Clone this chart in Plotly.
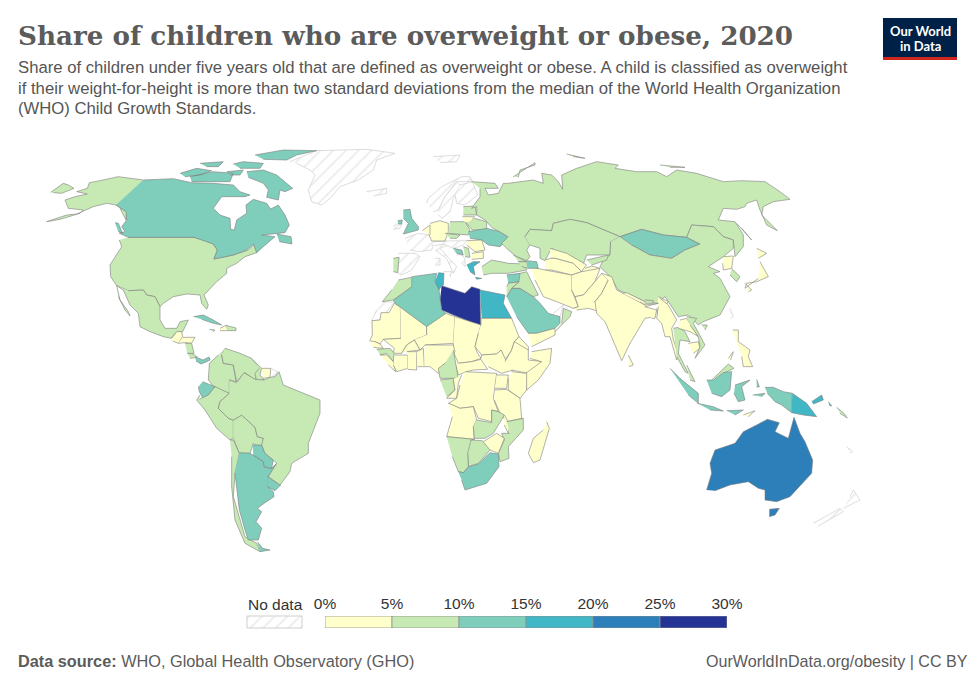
import plotly.graph_objects as go

# no topojson without network, so the outlines below are traced from zoomed crops
CROPS = {"N": (0, 140), "M": (370, 140), "O": (360, 300), "E": (385, 170), "S": (180, 340), "F": (365, 310), "A": (530, 240)}

country_names = [
    "USA", "Canada", "Mexico", "Guatemala", "Honduras", "Nicaragua", "Costa Rica", "Panama", "Cuba", "Haiti", "Dominican Rep.", "Jamaica",
    "Colombia", "Venezuela", "Guyana", "Suriname", "Ecuador", "Peru", "Bolivia", "Chile", "Argentina", "Paraguay", "Uruguay", "Brazil",
    "UK", "Portugal", "Germany", "Benelux", "Poland", "Baltics", "Lithuania", "Belarus", "Czechia", "Ukraine", "Romania", "Bulgaria", "Serbia", "Bosnia", "Greece", "Turkey",
    "Russia", "Kazakhstan", "Mongolia", "China", "North Korea", "South Korea", "Japan", "Uzbekistan", "Turkmenistan", "Kyrgyzstan", "Tajikistan", "Iran", "Afghanistan", "Pakistan", "India", "Nepal", "Bhutan", "Bangladesh", "Myanmar", "Sri Lanka", "Thailand", "Laos", "Cambodia", "Vietnam", "Malaysia", "Philippines", "Indonesia", "Timor",
    "Saudi Arabia", "Oman", "Yemen", "Iraq", "Syria", "Jordan", "Georgia", "Armenia", "Azerbaijan",
    "Libya", "Tunisia", "Algeria", "Morocco", "Egypt", "Mauritania", "Mali", "Niger", "Chad", "Sudan", "South Sudan", "CAR", "Senegal", "Guinea", "Sierra Leone", "Ivory Coast", "Burkina Faso", "Ghana", "Benin", "Nigeria", "Cameroon", "Gabon", "Congo", "DR Congo", "Eritrea", "Ethiopia", "Somalia", "Kenya", "Uganda", "Tanzania", "Angola", "Zambia", "Malawi", "Mozambique", "Zimbabwe", "Botswana", "Namibia", "South Africa", "Madagascar",
    "Australia", "Papua New Guinea", "Solomon Is.",
]
country_values = [
    9, 12, 8, 4, 4, 8, 8, 11, 11, 4, 8, 7,
    7, 7, 7, 4, 12, 8, 9, 9, 13, 12, 12, 7,
    11, 8, 4, 4, 7, 7, 4, 8, 7, 12, 4, 4, 8, 11, 17, 8,
    8, 8, 12, 8, 2, 7, 3, 3, 4, 7, 3, 4, 4, 3, 2, 2, 7, 2, 2, 2, 8, 3, 2, 6, 7, 4, 11, 2,
    14, 6, 2, 9, 13, 7, 8, 7, 12,
    28, 17, 12, 9, 17, 2, 2, 2, 3, 3, 3, 3, 2, 8, 4, 2, 2, 3, 2, 2, 9, 7, 4, 4, 2, 3, 3, 4, 4, 4, 3, 6, 4, 6, 3, 8, 6, 13, 2,
    22, 16, 5,
]
nodata_names = ["Greenland", "Iceland", "Svalbard", "Norway", "Sweden", "Finland", "Ireland", "France", "Spain", "Italy", "Alps", "Balkans", "W. Sahara", "Fr. Guiana", "Taiwan", "UAE", "New Zealand", "New Caledonia"]

outlines = {
    "USA": [("N", "385,292 582,292 610,300 640,312 652,330 642,357 700,345 745,330 765,310 770,338 735,350 710,370 680,385 680,400 650,425 625,450 612,465 625,495 620,508 605,490 600,465 560,462 520,470 490,490 480,500 465,470 440,465 430,450 385,452 350,437 332,410 330,375 345,350 365,320 358,300"),
            ("N", "430,120 355,110 300,122 268,128 262,145 230,155 262,162 225,170 195,180 205,205 250,210 240,220 180,238 140,245 200,225 230,222 280,200 320,190 348,195 380,215 378,240 360,205"),
            ("N", "152,157 190,130 205,135 222,145 185,160 160,158")],
    "Canada": [("N", "430,120 520,116 575,128 640,130 700,135 720,155 750,165 735,170 665,170 640,205 660,225 690,235 692,268 703,270 710,240 740,220 738,195 760,178 800,190 812,207 835,195 855,225 868,255 855,278 785,285 825,290 790,320 770,338 760,312 740,330 700,345 642,357 652,330 640,312 582,292 385,292 358,280 375,275 365,260 380,240 378,215 348,195"),
               ("N", "765,45 850,30 950,32 890,45 860,60 790,58"), ("N", "740,95 790,90 830,105 855,125 878,145 855,155 840,150 835,180 800,172 805,150 790,130 745,112"),
               ("N", "570,110 640,95 700,100 690,125 625,125 575,125"), ("N", "540,100 590,85 635,92 600,105 555,110"), ("N", "600,70 670,65 655,80 620,80"),
               ("N", "700,72 730,65 790,70 780,85 720,85"), ("N", "680,95 730,90 720,105 690,105"), ("N", "830,282 873,290 876,312 838,305"), ("N", "345,248 355,250 368,280 355,275")],
    "Mexico": [("N", "385,452 430,450 440,465 465,470 480,500 480,540 495,565 530,565 540,545 565,540 548,575 525,580 515,595 490,590 450,575 420,560 415,520 390,495 370,450 362,445 350,437"), ("N", "350,437 360,480 385,515 390,528 375,510 355,470")],
    "Guatemala": [("N", "515,595 530,575 545,575 548,590 535,610 518,603")],
    "Honduras": [("N", "548,592 585,592 575,610 555,608 535,610")],
    "Nicaragua": [("N", "555,610 575,610 582,640 562,640")],
    "Costa Rica": [("N", "562,640 580,642 592,652 570,655")],
    "Panama": [("N", "585,650 609,660 627,651 630,660 618,666 603,672 588,663")],
    "Cuba": [("N", "580,530 610,525 640,540 665,555 640,550 605,538")],
    "Haiti": [("N", "660,565 678,556 685,572 660,572")],
    "Dominican Rep.": [("N", "678,556 708,564 708,572 685,572")],
    "Jamaica": [("N", "628,568 645,570 640,575")],
    "Colombia": [("S", "135,25 125,45 130,70 160,75 168,125 148,120 148,160 135,155 105,145 85,120 88,70 115,45")],
    "Venezuela": [("S", "135,25 175,38 215,55 240,85 225,120 195,98 170,125 160,75 130,70 125,45")],
    "Guyana": [("S", "218,60 245,85 240,105 252,118 230,125 225,100 238,85")],
    "Suriname": [("S", "245,85 272,85 270,112 250,115")],
    "Ecuador": [("S", "68,125 105,140 85,165 70,178 58,155 55,140")],
    "Peru": [("S", "58,178 85,165 105,140 135,155 148,160 120,185 115,205 145,235 160,240 160,295 150,300 110,265 75,210 50,180 60,165")],
    "Bolivia": [("S", "160,240 185,225 225,262 232,290 250,295 250,330 220,310 210,340 178,340 160,295")],
    "Chile": [("S", "150,300 160,300 178,340 165,400 160,470 180,540 195,590 230,610 240,635 195,610 165,540 155,440 155,350")],
    "Argentina": [("S", "178,338 210,340 250,365 253,382 275,385 290,370 265,410 262,440 280,455 282,470 255,488 232,505 245,515 228,545 245,565 235,600 205,600 195,570 178,510 165,400"), ("S", "232,605 248,625 270,630 240,635")],
    "Paraguay": [("S", "218,315 245,315 255,340 280,360 275,385 253,380 250,365 220,345")],
    "Uruguay": [("S", "262,410 302,435 285,452 262,440")],
    "Brazil": [("S", "148,120 170,128 192,98 225,118 252,120 270,112 285,110 297,95 310,135 360,155 420,180 420,220 385,310 385,340 335,370 330,395 300,435 265,410 290,370 280,360 255,340 245,315 250,295 232,290 225,262 185,225 160,240 145,235 115,205 120,185 148,160")],
    "UK": [("E", "55,120 75,118 80,145 100,170 100,180 55,192 70,160 55,145"), ("E", "38,152 52,150 50,162 40,162")],
    "Portugal": [("E", "25,265 42,262 38,308 25,305")],
    "Germany": [("E", "135,160 165,152 190,160 190,185 180,213 140,213 130,190")],
    "Benelux": [("E", "112,182 135,165 135,195")],
    "Poland": [("E", "195,155 240,155 255,180 250,195 190,190")],
    "Baltics": [("E", "235,110 270,108 275,135 235,135")],
    "Lithuania": [("E", "232,140 268,140 255,160 240,158")],
    "Belarus": [("E", "268,145 305,155 305,180 262,180 245,160")],
    "Czechia": [("E", "180,190 225,195 215,205 195,205")],
    "Ukraine": [("E", "250,185 305,175 345,185 372,205 345,230 310,225 290,210 255,205")],
    "Romania": [("E", "245,212 290,210 300,240 270,245 245,225")],
    "Bulgaria": [("E", "260,250 295,245 295,265 260,268")],
    "Serbia": [("E", "235,230 250,235 255,262 240,260")],
    "Bosnia": [("E", "205,235 230,240 235,255 215,250")],
    "Greece": [("E", "245,285 265,275 285,275 265,290 270,315 255,305"), ("E", "270,322 290,325 275,328")],
    "Turkey": [("E", "290,290 320,270 370,280 420,282 425,300 370,310 320,310 295,315")],
    "Russia": [("M", "305,125 375,130 385,145 345,145 355,165 385,160 400,130 415,130 490,120 520,130 515,100 545,105 565,125 578,148 575,105 620,85 680,65 745,75 735,85 800,95 860,95 890,110 920,90 980,100 1060,125 1115,122 1185,125 1230,155 1260,178 1210,185 1180,200 1175,225 1222,272 1190,255 1170,210 1160,180 1130,190 1125,200 1100,208 1060,205 1045,240 1095,245 1120,285 1120,320 1095,350 1090,300 1060,290 1030,260 965,255 950,292 880,285 815,268 750,290 650,248 600,238 550,250 545,272 480,268 465,290 480,315 470,330 480,350 470,362 440,350 415,330 395,310 415,290 365,262 345,240 320,225 320,200 305,205 330,170 330,145"),
               ("M", "430,110 495,68 495,75 450,90 445,112"), ("M", "590,42 645,55 610,50"), ("M", "870,75 945,82 900,82"), ("M", "1100,250 1145,300 1115,265")],
    "Kazakhstan": [("M", "465,290 480,268 545,272 550,250 600,238 650,248 750,290 722,305 720,345 650,345 640,372 590,350 545,325 525,362 510,355 510,325 480,315")],
    "Mongolia": [("M", "750,290 815,268 880,285 950,292 990,312 945,330 905,355 840,345 785,315")],
    "China": [("M", "750,290 785,315 840,345 905,355 945,330 990,312 950,292 965,255 1030,260 1060,290 1090,300 1090,325 1060,350 1015,380 1050,395 1030,400 1050,415 1080,470 1050,525 1000,545 985,555 955,525 925,530 885,470 860,490 825,485 745,450 720,410 690,380 700,360 720,345 722,305"), ("M", "995,555 1012,555 1005,570")],
    "North Korea": [("M", "1060,350 1090,348 1085,385 1060,390 1058,370")],
    "South Korea": [("M", "1085,385 1110,410 1100,425 1080,405")],
    "Japan": [("M", "1160,325 1190,340 1165,355"), ("M", "1170,365 1195,410 1160,425 1130,430 1125,445 1165,415"), ("M", "1125,430 1145,450 1135,455")],
    "Uzbekistan": [("A", "60,25 110,40 170,75 165,80 155,95 130,70 75,55 62,55")],
    "Turkmenistan": [("A", "45,60 62,55 75,55 130,70 155,95 125,105 65,90 45,90")],
    "Kyrgyzstan": [("A", "170,60 235,45 230,60 185,75")],
    "Tajikistan": [("A", "165,85 185,78 210,85 185,95 160,95")],
    "Iran": [("A", "0,80 45,90 125,105 125,150 145,200 130,205 80,185 40,170 15,120")],
    "Afghanistan": [("A", "125,105 155,95 210,85 195,125 160,165 135,170 125,150")],
    "Pakistan": [("A", "130,205 145,200 135,170 160,165 195,125 215,100 235,120 215,160 195,185 210,215 175,205 140,210")],
    "India": [("A", "215,100 245,110 260,150 330,185 345,195 385,190 345,200 375,230 345,235 300,310 275,362 240,280 225,245 200,220 195,185 215,160 235,120"), ("A", "385,170 415,185 405,200 385,240 380,205")],
    "Nepal": [("A", "278,160 290,158 345,185 345,195 330,185")],
    "Bhutan": [("A", "345,180 370,182 368,190 347,190")],
    "Bangladesh": [("A", "345,200 380,210 375,235 365,235")],
    "Myanmar": [("A", "390,175 415,195 440,240 425,265 430,300 445,340 440,360 420,290 405,290 395,250 380,235 385,200")],
    "Sri Lanka": [("A", "295,345 310,375 297,380")],
    "Thailand": [("A", "430,265 445,262 465,275 480,305 450,300 445,340 475,400 465,395 440,350")],
    "Laos": [("A", "450,240 470,235 505,290 480,275 445,265")],
    "Cambodia": [("A", "475,310 505,305 510,325 490,340")],
    "Vietnam": [("A", "470,230 500,235 490,250 525,315 495,355 510,320 505,290 480,255")],
    "Malaysia": [("A", "470,375 495,425 480,420"), ("A", "545,420 595,372 612,385 580,400")],
    "Philippines": [("O", "1118,90 1135,90 1135,125 1170,150 1165,170 1178,200 1150,200 1145,170"), ("O", "1105,175 1120,155 1112,180")],
    "Indonesia": [("O", "930,205 960,235 1015,280 1015,310 985,285"), ("O", "1012,310 1060,320 1090,333 1050,330"), ("O", "1040,240 1060,240 1090,218 1115,215 1110,270 1085,290 1055,280"), ("O", "1125,255 1170,240 1145,260 1155,300 1135,305 1122,280"), ("O", "1215,262 1240,262 1270,275 1297,280 1295,338 1265,315 1245,305 1222,280"), ("O", "1100,332 1150,330 1125,345"), ("O", "1190,238 1198,260 1190,262"), ("O", "1178,285 1215,280 1205,290")],
    "Timor": [("O", "1150,345 1185,332 1165,350")],
    "Saudi Arabia": [("M", "410,470 425,445 450,445 490,470 510,490 535,520 570,530 570,550 555,565 500,580 475,580 440,530")],
    "Oman": [("M", "550,580 600,530 605,515 580,505 575,550")],
    "Yemen": [("M", "475,580 500,580 555,565 555,585 485,620")],
    "Iraq": [("M", "450,400 470,395 505,465 490,470 450,445 425,445 447,425")],
    "Syria": [("M", "410,405 450,400 447,425 415,430")],
    "Jordan": [("M", "410,440 415,430 447,425 425,445 410,470")],
    "Georgia": [("M", "430,345 470,365 445,365")],
    "Armenia": [("M", "445,365 470,365 475,385 455,380")],
    "Azerbaijan": [("M", "470,362 500,365 505,385 475,385")],
    "Libya": [("M", "215,437 240,445 285,460 305,440 330,448 332,555 300,545 250,525 215,510 210,480")],
    "Tunisia": [("M", "205,398 222,400 220,435 215,437 207,450 195,425")],
    "Algeria": [("M", "125,410 200,400 195,425 207,450 215,510 228,520 170,562 75,490 70,480 125,440")],
    "Morocco": [("M", "85,420 125,412 125,440 70,480 37,485 65,450")],
    "Egypt": [("M", "330,450 385,460 405,465 400,490 425,535 335,535")],
    "Mauritania": [("F", "15,90 22,75 21,32 45,30 48,8 72,8 88,-20 106,-8 108,85 55,88 45,102 30,95")],
    "Mali": [("F", "106,-8 185,50 185,75 148,90 125,105 110,130 85,130 88,115 55,88 108,85")],
    "Niger": [("F", "185,75 185,50 243,10 270,20 265,100 180,105 165,120 148,90")],
    "Chad": [("F", "270,20 348,45 340,70 330,110 338,130 348,145 320,155 280,160 265,125 265,100")],
    "Sudan": [("F", "348,45 348,25 440,25 462,80 448,95 440,120 420,150 408,120 395,132 350,135 330,110 340,70")],
    "South Sudan": [("F", "348,145 350,135 395,132 408,120 425,155 445,180 410,190 370,170")],
    "CAR": [("F", "280,160 320,155 348,148 368,178 325,180 305,185 280,195 270,160")],
    "Senegal": [("F", "13,92 30,95 45,102 55,115 25,112")],
    "Guinea": [("F", "35,118 75,115 88,130 85,155 65,130 45,135")],
    "Sierra Leone": [("F", "45,135 65,135 85,155 92,185 70,165")],
    "Ivory Coast": [("F", "90,135 128,135 128,175 95,185 85,165")],
    "Burkina Faso": [("F", "110,130 125,105 148,90 165,120 125,125")],
    "Ghana": [("F", "128,125 155,125 155,180 128,178")],
    "Benin": [("F", "155,125 175,115 178,170 158,170")],
    "Nigeria": [("F", "180,105 265,105 270,125 240,160 220,190 195,170 178,170")],
    "Cameroon": [("F", "265,120 270,150 280,205 225,205 220,175 240,160")],
    "Gabon": [("F", "225,210 265,205 270,240 245,260")],
    "Congo": [("F", "290,195 280,220 275,265 245,265 270,240 265,208")],
    "DR Congo": [("F", "300,185 395,190 385,265 400,305 380,300 380,335 340,325 325,290 285,295 250,280 275,265 285,225")],
    "Eritrea": [("F", "448,95 462,80 490,110 490,120")],
    "Ethiopia": [("F", "420,155 440,120 448,95 490,120 490,150 535,155 490,190 440,180")],
    "Somalia": [("F", "500,125 560,115 555,160 520,210 485,240 482,190 530,155 495,145")],
    "Kenya": [("F", "440,185 485,190 485,240 465,265 430,240 430,205")],
    "Uganda": [("F", "395,195 430,195 425,235 390,235")],
    "Tanzania": [("F", "390,240 425,238 465,265 470,325 425,335 405,310 388,270")],
    "Angola": [("F", "252,280 285,295 325,290 335,330 325,350 328,388 245,380 262,320")],
    "Zambia": [("F", "335,330 380,338 380,300 400,305 418,315 385,370 360,385 328,385 325,350")],
    "Malawi": [("F", "418,315 435,345 430,370 418,345")],
    "Mozambique": [("F", "425,335 475,325 475,360 430,410 432,445 405,455 400,430 418,390 410,370 435,370")],
    "Zimbabwe": [("F", "355,395 395,370 418,385 400,430 375,420")],
    "Botswana": [("F", "318,390 352,392 375,420 340,460 310,470 308,430")],
    "Namibia": [("F", "245,380 328,388 318,390 308,430 310,470 295,488 280,485 262,440")],
    "South Africa": [("F", "280,485 295,488 312,470 340,462 375,428 400,432 402,470 365,520 300,540 290,510")],
    "Madagascar": [("F", "545,335 553,355 525,450 505,458 490,430 505,385 535,360")],
    "Australia": [("O", "1040,570 1055,520 1050,490 1065,450 1125,430 1150,395 1190,375 1222,358 1258,368 1245,395 1285,415 1302,352 1320,400 1335,425 1358,480 1355,520 1290,590 1250,605 1215,600 1215,570 1195,565 1165,545 1110,555 1065,572"), ("O", "1228,628 1258,625 1245,645 1228,650")],
    "Papua New Guinea": [("O", "1297,280 1340,310 1370,350 1330,345 1295,338"), ("O", "1355,305 1385,285 1390,300 1360,312"), ("O", "1405,305 1415,318 1408,316")],
    "Solomon Is.": [("O", "1430,322 1450,338 1462,354 1440,340")],
    "Greenland": [("N", "870,65 950,32 1100,28 1185,40 1130,60 1120,90 1075,120 1020,140 990,175 965,195 935,185 925,150 945,105 930,90 890,70")],
    "Iceland": [("N", "1100,155 1160,145 1160,160 1120,168")],
    "Svalbard": [("N", "1300,50 1380,45 1370,65 1320,68")],
    "Norway": [("E", "125,100 130,85 170,50 230,20 255,20 262,35 215,35 180,80 160,120 145,125")],
    "Sweden": [("E", "160,120 180,80 215,37 225,45 205,85 195,125 172,145 160,135")],
    "Finland": [("E", "225,45 262,35 278,75 240,105 215,100 210,75")],
    "Ireland": [("E", "25,170 38,160 50,162 45,175 25,178")],
    "France": [("E", "60,205 100,190 130,195 150,215 140,240 100,245 75,240")],
    "Spain": [("E", "40,250 90,250 105,260 80,300 50,315 38,308 42,262")],
    "Italy": [("E", "140,225 175,215 190,225 165,235 215,290 205,310 185,265 150,240"), ("E", "150,265 165,265 165,285 152,285"), ("E", "175,305 200,305 195,320")],
    "Alps": [("E", "150,215 180,213 245,212 235,225 205,235 175,222 140,228")],
    "Balkans": [("E", "205,240 215,250 235,258 240,270 240,290 230,280")],
    "W. Sahara": [("M", "37,485 70,487 70,490 30,540 5,542 20,510")],
    "Fr. Guiana": [("S", "272,85 293,95 285,110 270,115")],
    "Taiwan": [("M", "1080,505 1090,530 1082,535")],
    "UAE": [("M", "550,520 580,495 570,530 555,530")],
    "New Zealand": [("O", "1470,590 1480,570 1500,600 1450,625"), ("O", "1360,670 1440,625 1450,635 1375,678")],
    "New Caledonia": [("O", "1460,440 1478,455 1470,458")],
}

bin_edges = [0, 5, 10, 15, 20, 25, 30]
bin_colors = ["#ffffcc", "#c7e9b4", "#7fcdbb", "#41b6c4", "#2c7fb8", "#253494"]
GREY = "#5b5b5b"
FONT = "Liberation Sans"


def outline_xy(name):
    xs, ys = [], []
    for crop, text in outlines[name]:
        x0, y0 = CROPS[crop]
        for pair in text.split():
            x, y = pair.split(",")
            xs.append(x0 + int(x) / 3)
            ys.append(y0 + int(y) / 3)
        xs.append(None)
        ys.append(None)
    return xs, ys


def color_for(value):
    for i, color in enumerate(bin_colors):
        if value < bin_edges[i + 1]:
            return color
    return bin_colors[-1]


hatch = dict(shape="/", bgcolor="white", fgcolor="#d6d6d6", size=9, solidity=0.18)

fig = go.Figure()
for name in nodata_names:
    xs, ys = outline_xy(name)
    fig.add_trace(go.Scatter(x=xs, y=ys, mode="lines", fill="toself", fillpattern=hatch,
                             line=dict(color="#cfcfcf", width=0.7), name=name, hoverinfo="name"))

for name, value in zip(country_names, country_values):
    xs, ys = outline_xy(name)
    fig.add_trace(go.Scatter(x=xs, y=ys, mode="lines", fill="toself", fillcolor=color_for(value),
                             line=dict(color="#7d7d7d", width=0.6), name=name, hoverinfo="name"))

# no data swatch, same plane as the map
fig.add_trace(go.Scatter(x=[247, 302, 302, 247, 247], y=[616, 616, 628, 628, 616], mode="lines", fill="toself",
                         fillpattern=hatch, line=dict(color="#cfcfcf", width=1), hoverinfo="skip"))

for i, color in enumerate(bin_colors):
    fig.add_trace(go.Bar(x=[bin_edges[i + 1] - bin_edges[i]], base=[bin_edges[i]], y=[0], orientation="h", width=1,
                         marker=dict(color=color, line=dict(color="#8f8f8f", width=0.8)),
                         xaxis="x2", yaxis="y2", hoverinfo="skip"))

logo_shapes = [
    dict(type="rect", xref="paper", yref="paper", x0=883 / 975, x1=957 / 975, y0=1 - 60 / 688, y1=1 - 18 / 688,
         fillcolor="#002147", line=dict(width=0)),
    dict(type="rect", xref="paper", yref="paper", x0=883 / 975, x1=957 / 975, y0=1 - 60 / 688, y1=1 - 57 / 688,
         fillcolor="#ce261e", line=dict(width=0)),
]


def text_at(x, y, text, size, color=GREY, family=FONT, anchor="left", **kw):
    return dict(x=x / 975, y=1 - y / 688, xref="paper", yref="paper", text=text, showarrow=False, xanchor=anchor,
                yanchor="middle", align=anchor, font=dict(family=family, size=size, color=color), **kw)


notes = [
    text_at(16, 36, "<b>Share of children who are overweight or obese, 2020</b>", 26.2, family="DejaVu Serif"),
    text_at(16, 67, "Share of children under five years old that are defined as overweight or obese. A child is classified as overweight", 16.7, color="#555555"),
    text_at(16, 88, "if their weight-for-height is more than two standard deviations from the median of the World Health Organization", 16.7, color="#555555"),
    text_at(16, 109, "(WHO) Child Growth Standards.", 16.7, color="#555555"),
    text_at(920, 31, "<b>Our World</b>", 13, color="white", family="Lato", anchor="center"),
    text_at(920, 46, "<b>in Data</b>", 13, color="white", family="Lato", anchor="center"),
    text_at(275, 604, "No data", 15.5, color="#333333", anchor="center"),
    text_at(16, 661, "<b>Data source:</b> WHO, Global Health Observatory (GHO)", 16.3),
    text_at(970, 661, "OurWorldInData.org/obesity | CC BY", 16.1, anchor="right"),
]

fig.update_layout(
    width=975,
    height=688,
    showlegend=False,
    hovermode=False,
    barmode="overlay",
    margin=dict(t=0, l=0, r=0, b=0),
    plot_bgcolor="white",
    paper_bgcolor="white",
    shapes=logo_shapes,
    annotations=notes,
    xaxis=dict(range=[0, 975], visible=False, domain=[0, 1], automargin=False),
    yaxis=dict(range=[688, 0], visible=False, domain=[0, 1], automargin=False),
    xaxis2=dict(range=[0, 30], domain=[325 / 975, 727 / 975], anchor="y2", side="top", tickvals=bin_edges,
                ticktext=[f"{v}%" for v in bin_edges], showgrid=False, zeroline=False, ticks="", showline=False,
                automargin=False, ticklabelstandoff=3, tickfont=dict(family=FONT, size=15.5, color="#333333")),
    yaxis2=dict(range=[-0.5, 0.5], domain=[60 / 688, 72 / 688], anchor="x2", visible=False, automargin=False),
)

fig.write_html("out.html", config={"displayModeBar": False}, post_script="document.body.style.margin='0';")
